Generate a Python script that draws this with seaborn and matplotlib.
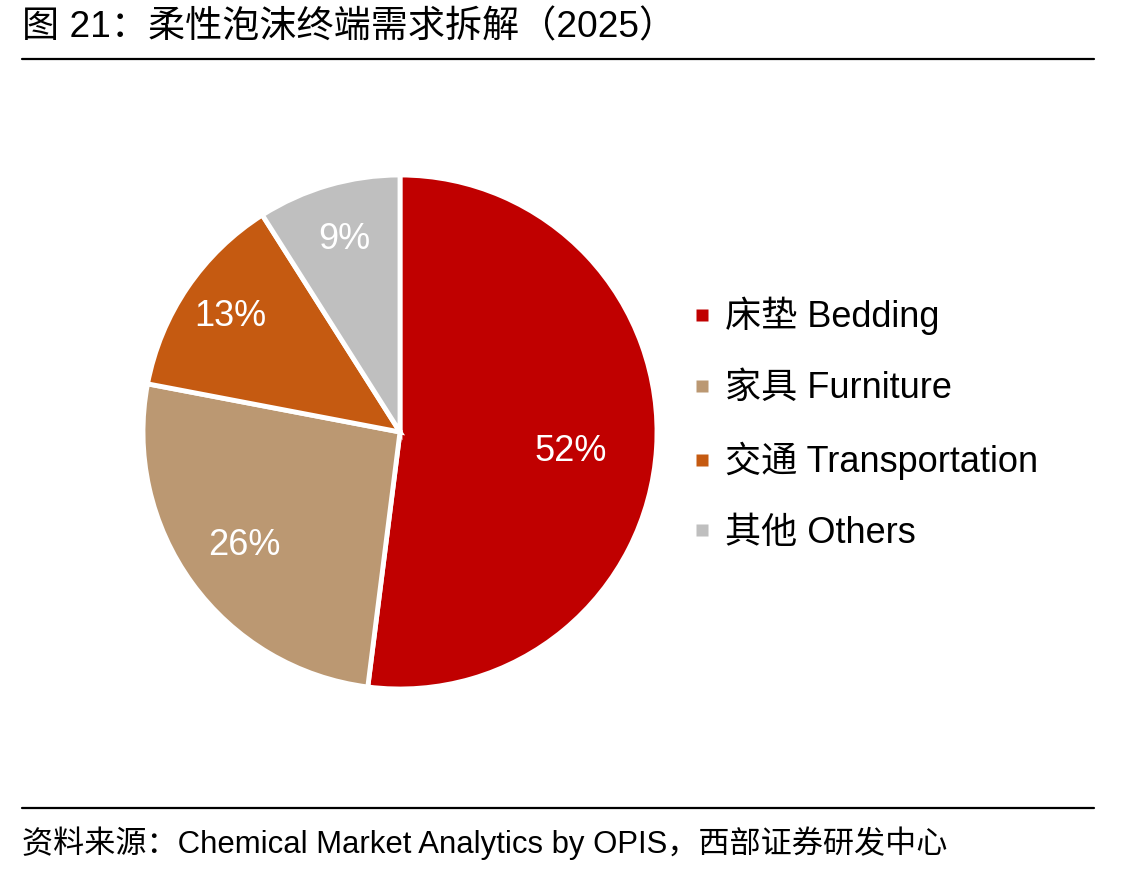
import matplotlib
matplotlib.use("Agg")
import matplotlib.pyplot as plt
from matplotlib.lines import Line2D
import numpy as np
import seaborn as sns

sns.set_theme(style="white")
plt.rcParams['font.family'] = ['Liberation Sans', 'Noto Sans CJK SC', 'DejaVu Sans']
plt.rcParams['text.color'] = 'black'

# 数据
categories = ["床垫 Bedding", "家具 Furniture", "交通 Transportation", "其他 Others"]
shares = [52, 26, 13, 9]
colors = ["#C00000", "#BB9872", "#C55A11", "#BFBFBF"]
label_radius = [0.67, 0.75, 0.80, 0.78]
label_shift = [-3.0, 0.0, 0.0, 0.0]  # 标签角度微调（度）

title = "图 21：柔性泡沫终端需求拆解（2025）"
source = "资料来源：Chemical Market Analytics by OPIS，西部证券研发中心"

fig = plt.figure(figsize=(11.44, 8.75), dpi=100)
ax = fig.add_axes([143 / 1144, 1 - 689 / 875, 514 / 1144, 514 / 875])

wedges, _ = ax.pie(shares, colors=colors, startangle=90, counterclock=False,
                   radius=1, wedgeprops=dict(edgecolor="white", linewidth=3.5))
ax.set_xlim(-1, 1)
ax.set_ylim(-1, 1)
ax.set_aspect("equal")

# 百分比标签
for w, s, r, d in zip(wedges, shares, label_radius, label_shift):
    ang = np.deg2rad((w.theta1 + w.theta2) / 2 + d)
    ax.text(r * np.cos(ang), r * np.sin(ang), f"{s}%", color="white",
            fontsize=26, ha="center", va="center")

handles = [Line2D([], [], marker="s", linestyle="none", markersize=9,
                  markerfacecolor=c, markeredgecolor="none") for c in colors]
fig.legend(handles, categories, loc="center left", bbox_to_anchor=(0.577, 1 - 424 / 875),
           frameon=False, fontsize=26, handlelength=0.5, handletextpad=0.4,
           labelspacing=0.99, labelcolor="black")

fig.text(22 / 1144, 1 - 28 / 875, title, fontsize=26.7, ha="left", va="center", color="black")
fig.add_artist(plt.Line2D([22 / 1144, 1094 / 1144], [1 - 59 / 875] * 2,
                          color="black", linewidth=1.6))
fig.add_artist(plt.Line2D([22 / 1144, 1094 / 1144], [1 - 808 / 875] * 2,
                          color="black", linewidth=1.6))
fig.text(22 / 1144, 1 - 843 / 875, source, fontsize=22.4, ha="left", va="center", color="black")

fig.savefig("out.png", dpi=100, facecolor="white")
